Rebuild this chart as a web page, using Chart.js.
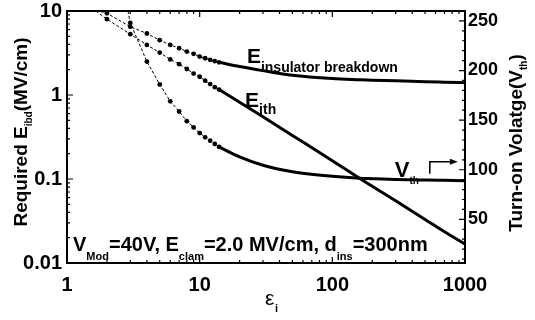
<!DOCTYPE html>
<html>
<head>
<meta charset="utf-8">
<script src="https://cdn.jsdelivr.net/npm/chart.js@4.4.1/dist/chart.umd.min.js"></script>
<style>
  html, body { margin: 0; padding: 0; background: #fff; }
  #wrap { width: 535px; height: 320px; }
</style>
</head>
<body>
<div id="wrap"><canvas id="chart"></canvas></div>
<script>
// tick labels
const xTicks = [1, 10, 100, 1000];
const yLeftTicks = [0.01, 0.1, 1, 10];
const yRightTicks = [50, 100, 150, 200, 250];

// sampled (dotted) part of the curves, first entry is where the curve enters the frame
const epsDotE = [1.65, 2, 3, 4, 5, 6, 7, 8, 9, 10, 11, 12, 13, 14];
const eInsDot = [10.2, 9.4, 6.5, 5.4, 4.5, 3.95, 3.6, 3.29, 3.09, 2.87, 2.74, 2.62, 2.53, 2.45];
const eIthDot = [10.0, 8.0, 5.3, 3.95, 3.2, 2.65, 2.33, 2.04, 1.8, 1.65, 1.48, 1.35, 1.24, 1.16];
const epsDotV = [2.88, 3, 4, 5, 6, 7, 8, 9, 10, 11, 12, 13, 14];
const vThDot = [260, 248, 209, 186, 169, 158.7, 149, 142.7, 137, 132.7, 129.3, 126, 123];

// solid part of the curves
const epsLine = [14, 20, 30, 50, 100, 160, 200, 300, 500, 700, 1000];
const eInsLine = [2.45, 2.18, 1.95, 1.72, 1.57, 1.52, 1.5, 1.48, 1.44, 1.42, 1.4];
const eIthLine = [1.16, 0.82, 0.55, 0.33, 0.165, 0.102, 0.082, 0.055, 0.033, 0.0235, 0.0168];
const vThLine = [123, 113, 104.5, 98, 93.5, 91.5, 91, 90.2, 89.6, 89.3, 89];

const FONT = "'Liberation Sans', Arial, Helvetica, sans-serif";
Chart.defaults.font.family = FONT;
Chart.defaults.color = '#000';

function dotSet(eps, vals, axis) {
    return {
        data: eps.map((e, i) => ({ x: e, y: vals[i] })),
        yAxisID: axis,
        borderColor: '#000',
        backgroundColor: '#000',
        borderWidth: 1,
        borderDash: [3, 2],
        pointRadius: ctx => ctx.dataIndex === 0 ? 0 : 2.4,
        pointBorderWidth: 0,
        tension: 0
    };
}

function lineSet(vals, axis) {
    return {
        data: epsLine.map((e, i) => ({ x: e, y: vals[i] })),
        yAxisID: axis,
        borderColor: '#000',
        borderWidth: 3,
        pointRadius: 0,
        cubicInterpolationMode: 'monotone'
    };
}

// draws text pieces one after another: [text, size, baseline shift]
function richText(ctx, x, y, parts) {
    let cx = x;
    parts.forEach(([t, size, dy]) => {
        ctx.font = 'bold ' + size + 'px ' + FONT;
        ctx.fillText(t, cx, y + dy);
        cx += ctx.measureText(t).width;
    });
    return cx - x;
}
function richWidth(ctx, parts) {
    let w = 0;
    parts.forEach(([t, size]) => {
        ctx.font = 'bold ' + size + 'px ' + FONT;
        w += ctx.measureText(t).width;
    });
    return w;
}

function logMinor(min, max) {
    const out = [];
    for (let d = min; d < max; d *= 10) {
        for (let k = 2; k <= 9; k++) out.push(d * k);
    }
    return out;
}

const decor = {
    id: 'decor',
    afterDraw(chart) {
        const { ctx, chartArea: a, scales } = chart;
        const sx = scales.x, sy = scales.y, sv = scales.y1;
        ctx.save();
        ctx.strokeStyle = '#000';
        ctx.fillStyle = '#000';

        // frame
        ctx.lineWidth = 2;
        ctx.strokeRect(a.left, a.top, a.right - a.left, a.bottom - a.top);

        // inward ticks
        ctx.lineWidth = 1.2;
        ctx.beginPath();
        const xt = (v, len) => {
            const p = sx.getPixelForValue(v);
            ctx.moveTo(p, a.bottom); ctx.lineTo(p, a.bottom - len);
            ctx.moveTo(p, a.top); ctx.lineTo(p, a.top + len);
        };
        xTicks.forEach(v => xt(v, 6));
        logMinor(1, 1000).forEach(v => xt(v, 3));
        const yt = (v, len) => {
            const p = sy.getPixelForValue(v);
            ctx.moveTo(a.left, p); ctx.lineTo(a.left + len, p);
        };
        yLeftTicks.forEach(v => yt(v, 6));
        logMinor(0.01, 10).forEach(v => yt(v, 3));
        for (let v = 10; v <= 260; v += 10) {
            const p = sv.getPixelForValue(v);
            const len = v % 50 === 0 ? 6 : 3;
            ctx.moveTo(a.right, p); ctx.lineTo(a.right - len, p);
        }
        ctx.stroke();

        // curve labels
        ctx.textAlign = 'left';
        ctx.textBaseline = 'alphabetic';
        richText(ctx, sx.getPixelForValue(22.7), sy.getPixelForValue(2.42),
            [['E', 21, 0], ['insulator breakdown', 14, 9]]);
        richText(ctx, sx.getPixelForValue(22), sy.getPixelForValue(0.71),
            [['E', 21, 0], ['ith', 14, 7]]);
        richText(ctx, sx.getPixelForValue(296), sv.getPixelForValue(93),
            [['V', 22, 0], ['th', 10, 7]]);

        // arrow pointing to the right axis
        const ax0 = sx.getPixelForValue(543), ax1 = sx.getPixelForValue(839);
        const ay0 = sv.getPixelForValue(96), ay1 = sv.getPixelForValue(108);
        ctx.lineWidth = 1.5;
        ctx.beginPath();
        ctx.moveTo(ax0, ay0); ctx.lineTo(ax0, ay1); ctx.lineTo(ax1, ay1);
        ctx.stroke();
        ctx.beginPath();
        ctx.moveTo(ax1 + 3, ay1); ctx.lineTo(ax1 - 5, ay1 - 3); ctx.lineTo(ax1 - 5, ay1 + 3);
        ctx.closePath(); ctx.fill();

        // condition text
        richText(ctx, sx.getPixelForValue(1.11), sy.getPixelForValue(0.0138), [
            ['V', 20, 0], ['Mod', 11, 9], ['=40V, E', 20, 0], ['clam', 11, 9],
            ['=2.0 MV/cm, d', 20, 0], ['ins', 11, 9], ['=300nm', 20, 0]
        ]);

        // x title
        ctx.font = '21px ' + FONT;
        ctx.fillText('\u03b5', 265, 305);
        ctx.font = 'bold 11px ' + FONT;
        ctx.fillText('i', 275, 312);

        // left title
        const lt = [['Required E', 19, 0], ['ibd', 10, 5], ['(MV/cm)', 19, 0]];
        ctx.save();
        ctx.translate(27, 132);
        ctx.rotate(-Math.PI / 2);
        richText(ctx, -richWidth(ctx, lt) / 2, 0, lt);
        ctx.restore();

        // right title
        const rt = [['Turn-on Volatge(V', 19, 0], ['th', 10, 5], [')', 19, 0]];
        ctx.save();
        ctx.translate(522, 143);
        ctx.rotate(-Math.PI / 2);
        richText(ctx, -richWidth(ctx, rt) / 2, 0, rt);
        ctx.restore();

        ctx.restore();
    }
};

const tickFont = { family: FONT, weight: 'bold', size: 20 };
const noGrid = { display: false, drawTicks: false, tickLength: 0 };

new Chart(document.getElementById('chart'), {
    type: 'line',
    data: {
        datasets: [
            dotSet(epsDotE, eInsDot, 'y'),
            dotSet(epsDotE, eIthDot, 'y'),
            dotSet(epsDotV, vThDot, 'y1'),
            lineSet(eInsLine, 'y'),
            lineSet(eIthLine, 'y'),
            lineSet(vThLine, 'y1')
        ]
    },
    options: {
        responsive: true,
        maintainAspectRatio: false,
        animation: false,
        layout: { padding: { top: 11, left: 0, right: 0, bottom: 0 } },
        plugins: { legend: { display: false }, tooltip: { enabled: false } },
        scales: {
            x: {
                type: 'logarithmic',
                min: 1, max: 1000,
                grid: noGrid,
                border: { display: false },
                afterBuildTicks: s => { s.ticks = xTicks.map(v => ({ value: v })); },
                afterFit: s => { s.height = 57; s.paddingLeft = 0; s.paddingRight = 0; },
                ticks: { font: tickFont, padding: 10, maxRotation: 0, autoSkip: false, callback: v => String(v) }
            },
            y: {
                type: 'logarithmic',
                position: 'left',
                min: 0.01, max: 10,
                grid: noGrid,
                border: { display: false },
                afterBuildTicks: s => { s.ticks = yLeftTicks.map(v => ({ value: v })); },
                afterFit: s => { s.width = 67; s.paddingTop = 0; s.paddingBottom = 0; },
                ticks: { font: tickFont, padding: 5, autoSkip: false, callback: v => String(v) }
            },
            y1: {
                type: 'linear',
                position: 'right',
                min: 6, max: 260,
                grid: noGrid,
                border: { display: false },
                afterBuildTicks: s => { s.ticks = yRightTicks.map(v => ({ value: v })); },
                afterFit: s => { s.width = 70; s.paddingTop = 0; s.paddingBottom = 0; },
                ticks: { font: { family: FONT, weight: 'bold', size: 18 }, padding: 3, autoSkip: false }
            }
        }
    },
    plugins: [decor]
});
</script>
</body>
</html>
